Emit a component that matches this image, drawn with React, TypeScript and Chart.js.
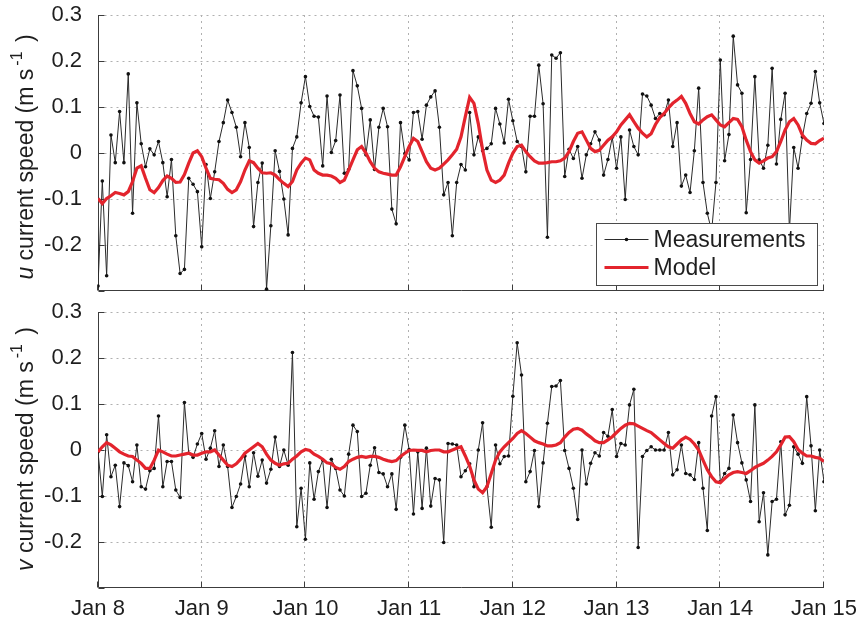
import { useEffect, useRef } from "react";
import { Chart, registerables } from "chart.js";

Chart.register(...registerables);

// Hourly samples from Jan 8 00:00 to Jan 15 00:00 (169 values each)
const dayLabels = ["Jan 8", "Jan 9", "Jan 10", "Jan 11", "Jan 12", "Jan 13", "Jan 14", "Jan 15"];
const hoursPerDay = 24;

const uMeasured = [
  -0.289, -0.061, -0.267, 0.039, -0.021, 0.090, -0.021, 0.172, -0.131, 0.109, 0.020, -0.030,
  0.009, -0.004, 0.025, -0.021, -0.095, -0.014, -0.180, -0.262, -0.253, -0.055, -0.068, -0.084,
  -0.204, -0.025, -0.099, -0.041, 0.025, 0.066, 0.115, 0.088, 0.056, -0.008, 0.066, 0.012,
  -0.160, -0.064, -0.022, -0.296, -0.158, 0.005, -0.040, -0.100, -0.178, 0.010, 0.035, 0.109,
  0.166, 0.101, 0.080, 0.078, -0.028, 0.124, 0.001, 0.027, 0.126, -0.044, -0.036, 0.179,
  0.146, 0.097, -0.004, 0.072, -0.036, 0.056, 0.097, 0.057, -0.122, -0.154, 0.066, -0.001,
  -0.015, 0.088, 0.090, 0.030, 0.104, 0.122, 0.135, 0.056, -0.091, -0.064, -0.180, -0.064,
  -0.025, -0.037, 0.088, -0.004, 0.035, 0.005, 0.010, 0.020, 0.097, 0.063, 0.022, 0.117,
  0.070, 0.025, 0.014, -0.041, 0.080, 0.080, 0.191, 0.107, -0.183, 0.213, 0.206, 0.218,
  -0.051, 0.008, -0.012, 0.014, -0.055, -0.004, 0.020, 0.046, 0.028, -0.048, -0.014, 0.034,
  -0.033, 0.035, -0.101, 0.050, 0.014, -0.004, 0.128, 0.124, 0.104, 0.075, 0.086, 0.083,
  0.115, 0.014, 0.066, -0.072, -0.048, -0.086, 0.005, 0.141, -0.064, -0.131, -0.170, -0.064,
  0.202, -0.017, 0.040, 0.254, 0.148, 0.130, -0.130, -0.014, 0.166, -0.015, -0.033, 0.017,
  0.184, -0.024, 0.073, 0.130, -0.170, 0.012, -0.033, 0.035, 0.086, 0.108, 0.177, 0.109,
  0.064,
];

const uModel = [
  -0.099, -0.110, -0.099, -0.093, -0.086, -0.088, -0.091, -0.084, -0.062, -0.033, -0.028, -0.055,
  -0.080, -0.086, -0.075, -0.060, -0.050, -0.055, -0.064, -0.063, -0.047, -0.022, 0.000, 0.005,
  -0.008, -0.033, -0.055, -0.057, -0.058, -0.066, -0.079, -0.086, -0.080, -0.062, -0.037, -0.017,
  -0.021, -0.033, -0.043, -0.044, -0.043, -0.048, -0.058, -0.066, -0.073, -0.062, -0.037, -0.022,
  -0.011, -0.015, -0.037, -0.044, -0.048, -0.048, -0.050, -0.055, -0.064, -0.059, -0.037, -0.015,
  0.007, 0.014, 0.000, -0.019, -0.033, -0.041, -0.044, -0.046, -0.048, -0.048, -0.030, -0.008,
  0.014, 0.032, 0.025, 0.003, -0.019, -0.033, -0.037, -0.033, -0.024, -0.015, -0.004, 0.008,
  0.035, 0.079, 0.121, 0.108, 0.064, 0.007, -0.037, -0.059, -0.064, -0.059, -0.048, -0.022,
  0.000, 0.014, 0.017, 0.003, -0.008, -0.017, -0.022, -0.022, -0.021, -0.019, -0.019, -0.017,
  -0.011, 0.003, 0.025, 0.043, 0.046, 0.028, 0.010, 0.003, 0.006, 0.017, 0.028, 0.035,
  0.046, 0.061, 0.072, 0.083, 0.068, 0.054, 0.043, 0.035, 0.042, 0.062, 0.077, 0.086,
  0.098, 0.108, 0.115, 0.123, 0.108, 0.086, 0.068, 0.063, 0.072, 0.079, 0.083, 0.072,
  0.061, 0.057, 0.066, 0.075, 0.073, 0.057, 0.028, 0.003, -0.015, -0.022, -0.017, -0.011,
  -0.008, 0.003, 0.025, 0.050, 0.068, 0.075, 0.061, 0.039, 0.028, 0.021, 0.020, 0.027,
  0.032,
];

const vMeasured = [
  -0.004, -0.101, 0.033, -0.058, -0.033, -0.123, -0.028, -0.034, -0.069, 0.011, -0.080, -0.085,
  -0.045, -0.040, 0.074, -0.080, -0.025, -0.025, -0.087, -0.103, 0.103, -0.007, -0.016, 0.013,
  0.036, -0.020, 0.004, 0.042, -0.036, 0.011, -0.036, -0.125, -0.101, -0.074, -0.013, -0.080,
  -0.006, -0.057, -0.022, -0.072, -0.042, 0.028, -0.036, 0.000, -0.033, 0.212, -0.167, -0.083,
  -0.194, -0.028, -0.107, -0.047, -0.022, -0.125, -0.020, -0.040, -0.087, -0.100, -0.009, 0.054,
  0.040, -0.101, -0.094, -0.033, 0.005, -0.049, -0.052, -0.080, -0.052, -0.129, -0.016, 0.054,
  0.001, -0.139, -0.004, -0.127, 0.004, -0.122, -0.062, -0.065, -0.201, 0.014, 0.013, 0.011,
  -0.058, -0.045, -0.030, -0.080, 0.000, 0.059, -0.080, -0.168, 0.011, -0.030, -0.014, -0.013,
  0.117, 0.233, 0.163, -0.069, -0.047, -0.001, -0.123, -0.028, 0.058, 0.138, 0.139, 0.151,
  -0.001, -0.040, -0.083, -0.151, 0.000, -0.074, -0.029, -0.006, -0.013, 0.038, 0.030, 0.088,
  -0.014, 0.014, 0.011, 0.098, 0.132, -0.212, -0.014, -0.001, 0.007, 0.000, 0.000, 0.000,
  0.038, -0.054, -0.043, 0.011, -0.051, -0.054, -0.064, 0.016, -0.083, -0.175, 0.074, 0.116,
  -0.069, -0.051, -0.040, 0.076, 0.016, -0.028, -0.065, -0.112, 0.098, -0.156, -0.093, -0.228,
  -0.112, -0.107, 0.018, -0.141, -0.120, 0.007, -0.009, -0.029, 0.116, 0.009, -0.132, 0.000,
  -0.069,
];

const vModel = [
  -0.004, 0.007, 0.016, 0.011, 0.004, -0.004, -0.009, -0.013, -0.014, -0.022, -0.029, -0.040,
  -0.040, -0.022, 0.000, -0.004, -0.009, -0.013, -0.013, -0.011, -0.009, -0.007, -0.011, -0.011,
  -0.007, -0.004, -0.004, 0.000, -0.011, -0.022, -0.033, -0.036, -0.030, -0.020, -0.007, 0.000,
  0.007, 0.014, 0.007, -0.009, -0.022, -0.029, -0.033, -0.030, -0.029, -0.020, -0.013, -0.004,
  0.001, -0.001, -0.009, -0.014, -0.020, -0.028, -0.030, -0.038, -0.042, -0.036, -0.025, -0.020,
  -0.016, -0.014, -0.016, -0.014, -0.014, -0.016, -0.020, -0.023, -0.025, -0.023, -0.014, -0.007,
  -0.001, 0.000, -0.001, -0.001, -0.004, -0.001, 0.000, 0.000, -0.004, -0.004, 0.000, 0.004,
  0.007, -0.013, -0.035, -0.065, -0.085, -0.093, -0.080, -0.051, -0.022, -0.004, 0.007, 0.016,
  0.025, 0.036, 0.042, 0.036, 0.028, 0.020, 0.016, 0.013, 0.009, 0.009, 0.011, 0.016,
  0.028, 0.038, 0.045, 0.047, 0.043, 0.035, 0.028, 0.020, 0.016, 0.016, 0.022, 0.029,
  0.038, 0.047, 0.054, 0.058, 0.057, 0.052, 0.047, 0.042, 0.038, 0.030, 0.022, 0.014,
  0.007, 0.004, 0.013, 0.022, 0.028, 0.023, 0.013, 0.000, -0.022, -0.043, -0.058, -0.069,
  -0.071, -0.062, -0.054, -0.049, -0.047, -0.049, -0.051, -0.045, -0.038, -0.033, -0.029, -0.022,
  -0.014, -0.004, 0.011, 0.028, 0.029, 0.018, 0.001, -0.007, -0.013, -0.013, -0.016, -0.018,
  -0.025,
];

const legendLabels = ["Measurements", "Model"];

const FONT = "'Liberation Sans', Arial, Helvetica, sans-serif";
const TEXT_COLOR = "#1e1e1e";
const AXIS_COLOR = "#3c3c3c";
const GRID_COLOR = "#b0b0b0";
const MEAS_COLOR = "#2a2a2a";
const MODEL_COLOR = "#e3242d";

const toPoints = (vals: number[]) => vals.map((y, i) => ({ x: i, y }));

const clearScalePadding = (s: any) => {
  s.paddingTop = 0;
  s.paddingBottom = 0;
  s.paddingLeft = 0;
  s.paddingRight = 0;
};

// Dotted grid, left/bottom axis lines and inward tick marks
const framePlugin = {
  id: "frame",
  beforeDatasetsDraw(chart: any) {
    const { ctx, chartArea: a, scales } = chart;
    const x = scales.x;
    const y = scales.y;
    const line = (x1: number, y1: number, x2: number, y2: number) => {
      ctx.beginPath();
      ctx.moveTo(x1, y1);
      ctx.lineTo(x2, y2);
      ctx.stroke();
    };
    const left = Math.round(a.left) + 0.5;
    const bottom = Math.round(a.bottom) - 0.5;
    ctx.save();
    ctx.lineWidth = 1;
    ctx.strokeStyle = GRID_COLOR;
    ctx.setLineDash([2, 4]);
    x.ticks.forEach((t: any) => {
      const px = Math.round(x.getPixelForValue(t.value)) - 0.5;
      if (px - left < 2) return;
      line(px, a.top, px, bottom);
    });
    y.ticks.forEach((t: any) => {
      const py = Math.round(y.getPixelForValue(t.value)) + 0.5;
      if (bottom - py < 2) return;
      line(left, py, a.right, py);
    });
    ctx.setLineDash([]);
    ctx.strokeStyle = AXIS_COLOR;
    line(left, a.top, left, bottom);
    line(left, bottom, a.right, bottom);
    const tickLen = 6;
    y.ticks.forEach((t: any) => {
      const py = Math.round(y.getPixelForValue(t.value)) + 0.5;
      line(left, py, left + tickLen, py);
    });
    x.ticks.forEach((t: any) => {
      const px = Math.round(x.getPixelForValue(t.value)) - 0.5;
      line(px, bottom, px, bottom - tickLen);
    });
    ctx.restore();
  },
};

// Rotated y-axis title with an italic component letter and a superscript unit exponent
const axisTitlePlugin = (letter: string, centerY: number) => ({
  id: "axisTitle",
  afterDraw(chart: any) {
    const { ctx } = chart;
    const parts = [
      { text: letter, font: `italic 23px ${FONT}`, rise: 0, gap: 0 },
      { text: " current speed (m s", font: `23px ${FONT}`, rise: 0, gap: 3 },
      { text: "-1", font: `16px ${FONT}`, rise: 11, gap: 3 },
      { text: " )", font: `23px ${FONT}`, rise: 0, gap: 0 },
    ];
    ctx.save();
    const widths = parts.map((p) => {
      ctx.font = p.font;
      return ctx.measureText(p.text).width + p.gap;
    });
    const total = widths.reduce((s, w) => s + w, 0);
    ctx.translate(33, centerY);
    ctx.rotate(-Math.PI / 2);
    ctx.fillStyle = TEXT_COLOR;
    ctx.textBaseline = "alphabetic";
    ctx.textAlign = "left";
    let pos = -total / 2;
    parts.forEach((p, i) => {
      ctx.font = p.font;
      ctx.fillText(p.text, pos, -p.rise);
      pos += widths[i];
    });
    ctx.restore();
  },
});

// Boxed legend in the lower right corner of the plot area
const legendBoxPlugin = {
  id: "legendBox",
  afterDatasetsDraw(chart: any) {
    const { ctx, chartArea: a } = chart;
    const w = 221;
    const h = 62;
    const bx = Math.round(a.right - 7 - w) + 0.5;
    const by = Math.round(a.bottom - 6 - h) + 0.5;
    ctx.save();
    ctx.fillStyle = "#ffffff";
    ctx.strokeStyle = "#4a4a4a";
    ctx.lineWidth = 1;
    ctx.fillRect(bx, by, w, h);
    ctx.strokeRect(bx, by, w, h);
    const rows = [by + 16, by + 44];
    const x1 = bx + 8;
    const x2 = bx + 52;
    // Measurements sample
    ctx.strokeStyle = MEAS_COLOR;
    ctx.lineWidth = 1;
    ctx.beginPath();
    ctx.moveTo(x1, rows[0]);
    ctx.lineTo(x2, rows[0]);
    ctx.stroke();
    ctx.fillStyle = "#111";
    ctx.beginPath();
    ctx.arc((x1 + x2) / 2, rows[0], 1.8, 0, Math.PI * 2);
    ctx.fill();
    // Model sample
    ctx.strokeStyle = MODEL_COLOR;
    ctx.lineWidth = 3;
    ctx.beginPath();
    ctx.moveTo(x1, rows[1]);
    ctx.lineTo(x2, rows[1]);
    ctx.stroke();
    ctx.fillStyle = TEXT_COLOR;
    ctx.font = `23px ${FONT}`;
    ctx.textBaseline = "middle";
    ctx.textAlign = "left";
    legendLabels.forEach((label, i) => ctx.fillText(label, bx + 57, rows[i] + 1));
    ctx.restore();
  },
};

type PanelProps = {
  measured: number[];
  model: number[];
  letter: string;
  height: number;
  padTop: number;
  xAxisHeight: number;
  showDates: boolean;
  showLegend: boolean;
  titleCenterY: number;
};

function Panel(props: PanelProps) {
  const ref = useRef<HTMLCanvasElement | null>(null);

  useEffect(() => {
    if (!ref.current) return;
    const plugins: any[] = [framePlugin, axisTitlePlugin(props.letter, props.titleCenterY)];
    if (props.showLegend) plugins.push(legendBoxPlugin);
    const chart = new Chart(ref.current, {
      type: "line",
      data: {
        datasets: [
          {
            label: legendLabels[1],
            data: toPoints(props.model),
            borderColor: MODEL_COLOR,
            borderWidth: 3.2,
            pointRadius: 0,
            tension: 0,
            order: 0,
          },
          {
            label: legendLabels[0],
            data: toPoints(props.measured),
            borderColor: MEAS_COLOR,
            borderWidth: 1,
            pointRadius: 1.8,
            pointBorderWidth: 0,
            pointBackgroundColor: "#111",
            tension: 0,
            order: 1,
          },
        ],
      },
      options: {
        responsive: false,
        animation: false,
        events: [],
        layout: {
          autoPadding: false,
          padding: { left: 0, right: 36, top: props.padTop, bottom: 0 },
        },
        plugins: {
          legend: { display: false },
          tooltip: { enabled: false },
        },
        scales: {
          x: {
            type: "linear",
            min: 0,
            max: (dayLabels.length - 1) * hoursPerDay,
            grid: { display: false },
            border: { display: false },
            ticks: {
              display: props.showDates,
              stepSize: hoursPerDay,
              autoSkip: false,
              maxRotation: 0,
              padding: 0,
              color: TEXT_COLOR,
              font: { family: FONT, size: 22 },
              callback: (v: any) => dayLabels[Math.round(Number(v) / hoursPerDay)] ?? "",
            },
            afterFit: (s: any) => {
              s.height = props.xAxisHeight;
              clearScalePadding(s);
            },
          },
          y: {
            type: "linear",
            min: -0.3,
            max: 0.3,
            grid: { display: false },
            border: { display: false },
            ticks: {
              stepSize: 0.1,
              padding: 8,
              color: TEXT_COLOR,
              font: { family: FONT, size: 22 },
              callback: (v: any) => {
                const r = Math.round(Number(v) * 10) / 10;
                if (r < -0.25) return "";
                return r === 0 ? "0" : String(r);
              },
            },
            afterFit: (s: any) => {
              s.width = 98;
              clearScalePadding(s);
            },
          },
        },
      },
      plugins,
    });
    return () => chart.destroy();
  }, []);

  return (
    <canvas
      ref={ref}
      width={860}
      height={props.height}
      style={{ display: "block", width: 860, height: props.height }}
    />
  );
}

export default function App() {
  return (
    <div
      style={{
        position: "absolute",
        left: 0,
        top: 0,
        width: 860,
        height: 622,
        background: "#ffffff",
      }}
    >
      <Panel
        measured={uMeasured}
        model={uModel}
        letter="u"
        height={300}
        padTop={15}
        xAxisHeight={9}
        showDates={false}
        showLegend={true}
        titleCenterY={157}
      />
      <Panel
        measured={vMeasured}
        model={vModel}
        letter="v"
        height={322}
        padTop={12}
        xAxisHeight={34}
        showDates={true}
        showLegend={false}
        titleCenterY={149}
      />
    </div>
  );
}
